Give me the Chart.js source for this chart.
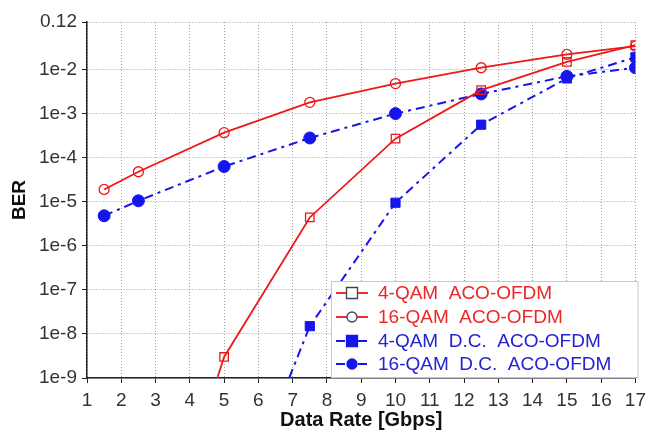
<!DOCTYPE html>
<html>
<head>
<meta charset="utf-8">
<script src="https://cdn.jsdelivr.net/npm/chart.js@4/dist/chart.umd.min.js"></script>
<style>
html,body{margin:0;padding:0;background:#fff;}
#wrap{width:652px;height:431px;}
</style>
</head>
<body>
<div id="wrap"><canvas id="c" width="652" height="431"></canvas></div>
<script>
// ---- data ----
const dataRates = [1.5, 2.5, 5, 7.5, 10, 12.5, 15, 17];
const qam4ACO   = [null, 3e-15, 3e-9, 4.4e-6, 2.7e-4, 3.4e-3, 1.5e-2, 3.6e-2];
const qam16ACO  = [1.9e-5, 4.8e-5, 3.7e-4, 1.8e-3, 4.8e-3, 1.1e-2, 2.2e-2, 3.4e-2];
const qam4DC    = [null, null, 2e-13, 1.5e-8, 9.5e-6, 5.6e-4, 6.3e-3, 1.9e-2];
const qam16DC   = [4.8e-6, 1.05e-5, 6.3e-5, 2.8e-4, 1.0e-3, 2.8e-3, 7e-3, 1.1e-2];
const seriesLabels = ['4-QAM  ACO-OFDM', '16-QAM  ACO-OFDM', '4-QAM  D.C.  ACO-OFDM', '16-QAM  D.C.  ACO-OFDM'];
const yTickValues = [1e-9, 1e-8, 1e-7, 1e-6, 1e-5, 1e-4, 1e-3, 1e-2, 0.12];
const yTickLabels = ['1e-9', '1e-8', '1e-7', '1e-6', '1e-5', '1e-4', '1e-3', '1e-2', '0.12'];

const RED = 'rgb(238,24,24)';
const BLUE = 'rgb(22,22,235)';
const DASHDOT = [9, 5, 3, 5];
const FONT = 'Liberation Sans, Arial, sans-serif';

function pts(arr) {
  return dataRates.map((x, i) => ({x: x, y: arr[i]})).filter(p => p.y !== null);
}

const datasets = [
  {label: seriesLabels[0], data: pts(qam4ACO), borderColor: RED, borderWidth: 1.8,
   pointStyle: 'rect', pointRadius: 6, pointBorderWidth: 1.3, pointBorderColor: RED, pointBackgroundColor: 'rgba(255,255,255,0)',
   legendMarker: '#444', legendFill: false, dash: []},
  {label: seriesLabels[1], data: pts(qam16ACO), borderColor: RED, borderWidth: 1.8,
   pointStyle: 'circle', pointRadius: 5, pointBorderWidth: 1.3, pointBorderColor: RED, pointBackgroundColor: 'rgba(255,255,255,0)',
   legendMarker: '#444', legendFill: false, dash: []},
  {label: seriesLabels[2], data: pts(qam4DC), borderColor: BLUE, borderWidth: 2, borderDash: DASHDOT,
   pointStyle: 'rect', pointRadius: 6.5, pointBorderWidth: 1, pointBorderColor: BLUE, pointBackgroundColor: BLUE,
   legendMarker: BLUE, legendFill: true, dash: DASHDOT},
  {label: seriesLabels[3], data: pts(qam16DC), borderColor: BLUE, borderWidth: 2, borderDash: DASHDOT,
   pointStyle: 'circle', pointRadius: 6, pointBorderWidth: 1, pointBorderColor: BLUE, pointBackgroundColor: BLUE,
   legendMarker: BLUE, legendFill: true, dash: DASHDOT}
];
datasets.forEach(d => { d.fill = false; d.tension = 0; d.pointHoverRadius = d.pointRadius; });

const legendPlugin = {
  id: 'insideLegend',
  afterDraw(chart) {
    const ctx = chart.ctx;
    const area = chart.chartArea;
    const x0 = area.left + 244, x1 = area.right + 3, y0 = area.bottom - 97, y1 = area.bottom;
    ctx.save();
    ctx.fillStyle = '#fff';
    ctx.fillRect(x0, y0, x1 - x0, y1 - y0);
    ctx.strokeStyle = '#c8c8c8';
    ctx.lineWidth = 1;
    ctx.strokeRect(x0 + 0.5, y0 + 0.5, x1 - x0 - 1, y1 - y0 - 1);
    const rowY = [293, 317, 341, 364].map(v => v - 378 + area.bottom);
    chart.data.datasets.forEach((ds, i) => {
      const y = rowY[i];
      const lx0 = x0 + 5, lx1 = x0 + 37, mx = x0 + 21;
      ctx.strokeStyle = ds.borderColor;
      ctx.lineWidth = ds.borderWidth;
      ctx.setLineDash(ds.dash);
      ctx.beginPath(); ctx.moveTo(lx0, y); ctx.lineTo(lx1, y); ctx.stroke();
      ctx.setLineDash([]);
      ctx.lineWidth = 1.3;
      ctx.strokeStyle = ds.legendMarker;
      ctx.fillStyle = ds.legendFill ? ds.legendMarker : '#fff';
      ctx.beginPath();
      if (ds.pointStyle === 'rect') {
        ctx.rect(mx - 5.5, y - 5.5, 11, 11);
      } else {
        ctx.arc(mx, y, 5, 0, Math.PI * 2);
      }
      ctx.fill(); ctx.stroke();
      ctx.fillStyle = i < 2 ? 'rgb(235,40,40)' : 'rgb(35,35,210)';
      ctx.font = '19px ' + FONT;
      ctx.textBaseline = 'middle';
      ctx.textAlign = 'left';
      ctx.fillText(ds.label, x0 + 47, y + 1);
    });
    ctx.restore();
  }
};

new Chart(document.getElementById('c'), {
  type: 'line',
  data: {datasets: datasets},
  options: {
    responsive: false,
    animation: false,
    events: [],
    layout: {padding: {top: 22, right: 12, bottom: 0, left: 0}},
    plugins: {legend: {display: false}, tooltip: {enabled: false}},
    scales: {
      x: {
        type: 'linear', min: 1, max: 17,
        ticks: {stepSize: 1, color: '#333', font: {family: FONT, size: 19}, padding: 6, maxRotation: 0, autoSkip: false},
        grid: {color: '#a0a0a0', tickColor: '#222', tickLength: 5, lineWidth: 1},
        border: {display: true, color: '#222', width: 1.5, dash: [1, 2]},
        title: {display: true, text: 'Data Rate [Gbps]', color: '#111', font: {family: FONT, size: 20, weight: 'bold', lineHeight: 1}, padding: {top: 0, bottom: 1}},
        afterFit(s) { s.height = 53; }
      },
      y: {
        type: 'logarithmic', min: 1e-9, max: 0.12,
        afterBuildTicks(s) { s.ticks = yTickValues.map(v => ({value: v, major: true})); },
        ticks: {color: '#333', font: {family: FONT, size: 19}, padding: 5,
          callback: (v) => { const i = yTickValues.findIndex(t => Math.abs(Math.log10(t) - Math.log10(v)) < 1e-6); return i >= 0 ? yTickLabels[i] : ''; }},
        grid: {color: '#a0a0a0', tickColor: '#222', tickLength: 5, lineWidth: 1},
        border: {display: true, color: '#222', width: 1.5, dash: [1, 2]},
        title: {display: true, text: 'BER', color: '#111', font: {family: FONT, size: 19, weight: 'bold', lineHeight: 1}, padding: {top: 10, bottom: 0}},
        afterFit(s) { s.width = 87; }
      }
    }
  },
  plugins: [legendPlugin]
});
</script>
</body>
</html>
